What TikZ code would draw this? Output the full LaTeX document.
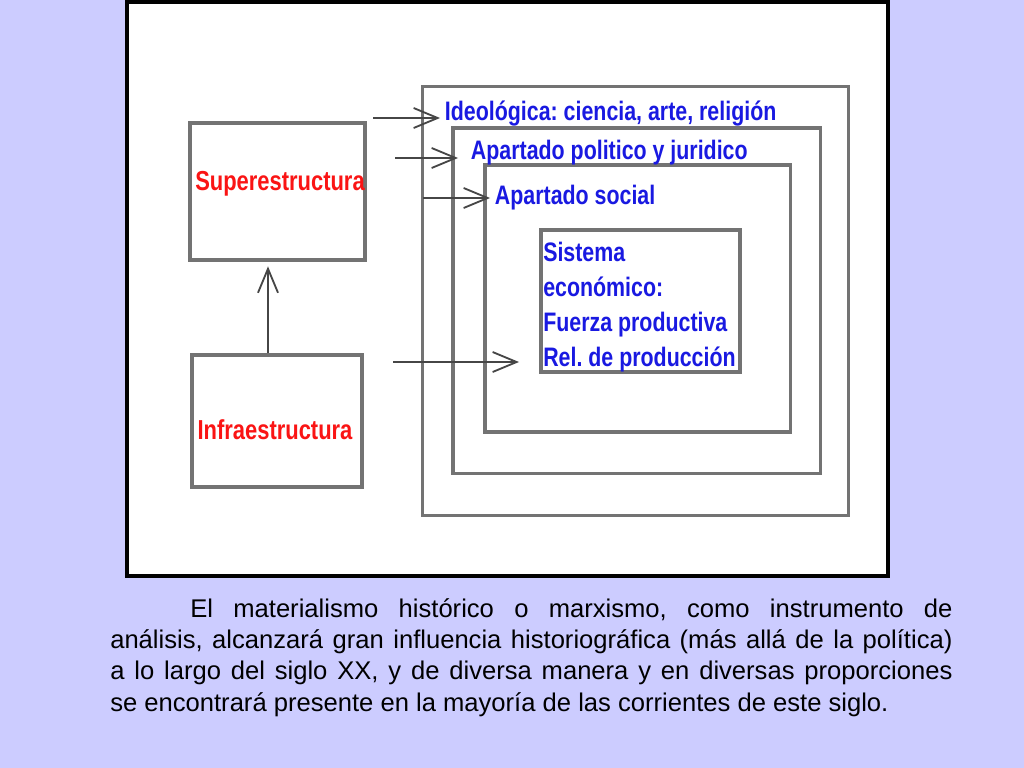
\documentclass[tikz,border=0pt]{standalone}
\usepackage{fontspec}
\setmainfont{Liberation Sans}
\newfontfamily\labelfont[FakeStretch=0.8]{Liberation Sans}
\usetikzlibrary{arrows.meta, calc}
\definecolor{mylavender}{RGB}{204,204,255}
\definecolor{myblue}{RGB}{25,25,225}
\definecolor{myred}{RGB}{250,20,20}
\definecolor{mygray}{RGB}{115,115,115}
\definecolor{mydark}{RGB}{70,70,70}
\tikzstyle{frame} = [draw=mygray, line width=2.2pt, fill=none, inner sep=0]
\tikzstyle{redtext} = [text=myred, font=\frenchspacing\labelfont\bfseries\fontsize{19.5}{22}\selectfont]
\tikzstyle{bluetext} = [text=myblue, font=\frenchspacing\labelfont\bfseries\fontsize{19}{22}\selectfont]
\tikzstyle{arr} = [draw=mydark, line width=1.6pt,
    -{Straight Barb[length=0.6cm, width=0.5cm, line width=1.3pt]}]

\begin{document}
\begin{tikzpicture}[x=0.025cm, y=-0.025cm]
\useasboundingbox (0,0) rectangle (1024,768);
\fill[mylavender] (0,0) rectangle (1024,768);

% white panel
\draw[fill=white, line width=0.12cm] (127,2) rectangle (888,576);

%%% LEFT BOXES
\node[frame, minimum width=4.375cm, minimum height=3.425cm] (sup) at (277.5,191.5) {};
\node[redtext] (suptext) at (280,184) {Superestructura};

\node[frame, minimum width=4.25cm, minimum height=3.3cm] (inf) at (277,421) {};
\node[redtext] (inftext) at (275,430) {Infraestructura};

%%% NESTED BOXES
\node[frame, minimum width=10.625cm, minimum height=10.7cm] (box1) at (635.5,301) {};
\node[frame, minimum width=9.175cm, minimum height=8.625cm] (box2) at (636.5,300.5) {};
\node[frame, minimum width=7.625cm, minimum height=6.675cm] (box3) at (637.5,298.5) {};
\node[frame, minimum width=4.975cm, minimum height=3.55cm] (box4) at (640.5,301) {};

\node[bluetext, anchor=west] (ideo) at (440,114) {Ideológica: ciencia, arte, religión};
\node[bluetext, anchor=west] (pol) at (466,153) {Apartado politico y juridico};
\node[bluetext, anchor=west] (soc) at (490,198) {Apartado social};
\node[bluetext, anchor=west, align=left, inner sep=0,
    font=\frenchspacing\labelfont\bfseries\fontsize{19}{25}\selectfont] (eco) at (543,307)
    {Sistema\\económico:\\Fuerza productiva\\Rel. de producción};

%%% ARROWS
\coordinate (s1) at (373,118);
\coordinate (s2) at (395,158);
\coordinate (s3) at (423,198);
\coordinate (s4) at (393,362);
\draw[arr] (s1) -- (s1 -| ideo.west);
\draw[arr, shorten >=0.2cm] (s2) -- (s2 -| pol.west);
\draw[arr] (s3) -- (s3 -| soc.west);
\draw[arr, shorten >=0.6cm] (s4) -- (s4 -| eco.west);
\draw[arr, shorten >=0.12cm] ([xshift=-0.225cm]inf.north) -- ([xshift=-0.225cm]inf.north |- sup.south);

%%% TEXT BELOW
\node[anchor=base west, inner sep=0, text width=21.05cm, align=justify,
    font=\frenchspacing\fontsize{18.2}{22.3}\selectfont] (para) at (110,617)
    {\hspace*{2cm}El materialismo histórico o marxismo, como instrumento de\linebreak
    análisis, alcanzará gran influencia historiográfica (más allá de la política)\linebreak
    a lo largo del siglo XX, y de diversa manera y en diversas proporciones\linebreak
    se encontrará presente en la mayoría de las corrientes de este siglo.};
\end{tikzpicture}
\end{document}
